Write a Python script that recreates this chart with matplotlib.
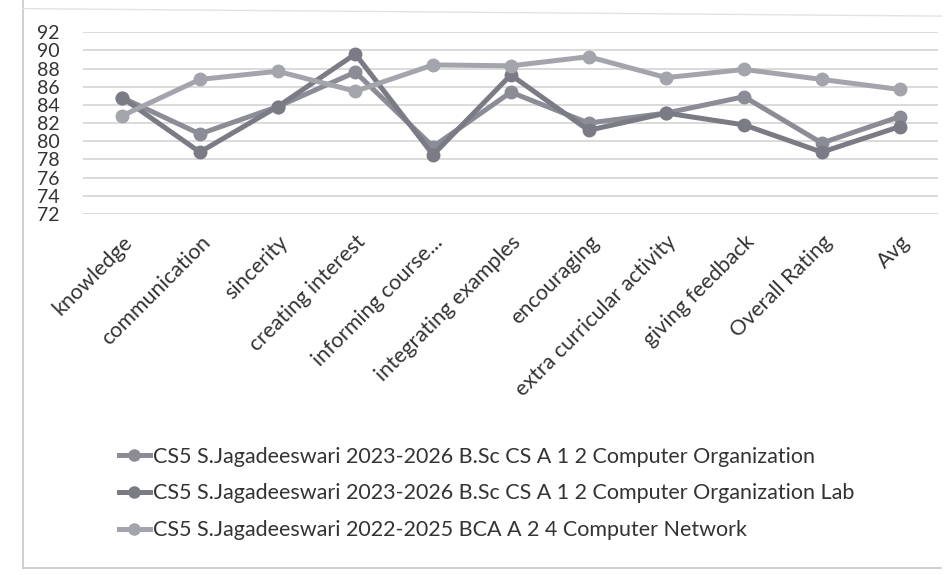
import matplotlib
matplotlib.use("Agg")
import matplotlib.pyplot as plt
from matplotlib.lines import Line2D

categories = ["knowledge", "communication", "sincerity", "creating interest",
              "informing course...", "integrating examples", "encouraging",
              "extra curricular activity", "giving feedback", "Overall Rating", "Avg"]
series_names = [
    "CS5 S.Jagadeeswari 2023-2026 B.Sc CS A 1 2 Computer Organization",
    "CS5 S.Jagadeeswari 2023-2026 B.Sc CS A 1 2 Computer Organization Lab",
    "CS5 S.Jagadeeswari 2022-2025 BCA A 2 4 Computer Network",
]
org = [84.8, 80.8, 83.8, 87.6, 79.4, 85.4, 82.0, 83.1, 84.9, 79.8, 82.7]
org_lab = [84.8, 78.8, 83.8, 89.6, 78.5, 87.3, 81.2, 83.1, 81.8, 78.8, 81.6]
network = [82.8, 86.8, 87.7, 85.5, 88.4, 88.3, 89.3, 87.0, 87.9, 86.8, 85.7]
yticks = list(range(72, 93, 2))

colors = ["#8c8c96", "#7b7b86", "#a4a4ad"]

plt.rcParams['font.family'] = ['Lato', 'DejaVu Sans']
fig = plt.figure(figsize=(9.46, 5.75), dpi=100)
ax = fig.add_axes([0.088, 0.628, 0.904, 0.316])

x = list(range(len(categories)))
for vals, c in zip([org, org_lab, network], colors):
    ax.plot(x, vals, color=c, lw=3.6, marker='o', markersize=9,
            markerfacecolor=c, markeredgecolor=c, zorder=3)

ax.set_xlim(-0.5, len(categories) - 0.5)
ax.set_ylim(72, 92)
ax.set_yticks(yticks)
ax.set_yticklabels([str(v) for v in yticks], fontsize=14, color="#333333")
ax.set_xticks(x)
ax.set_xticklabels(categories, rotation=45, ha='right', rotation_mode='anchor',
                   fontsize=15.5, color="#333333")
ax.tick_params(axis='both', length=0)
ax.tick_params(axis='y', pad=17)
ax.tick_params(axis='x', pad=13)
ax.grid(axis='y', color="#d4d4d4", lw=1.2)
ax.set_axisbelow(True)
for s in ax.spines.values():
    s.set_visible(False)

handles = [Line2D([0], [0], color=c, lw=3.6, marker='o', markersize=8,
                  markerfacecolor=c, markeredgecolor=c) for c in colors]
fig.legend(handles, series_names, loc='upper left', bbox_to_anchor=(0.105, 0.257),
           frameon=False, fontsize=15.5, handlelength=1.45, handletextpad=0.15,
           labelspacing=0.78, labelcolor="#333333")

# outer chart border (scanned frame)
fig.add_artist(Line2D([0.024, 0.024], [0.012, 1.0], color="#c8c8c8", lw=1.2,
                      transform=fig.transFigure))
fig.add_artist(Line2D([0.024, 0.995], [0.012, 0.012], color="#c8c8c8", lw=1.2,
                      transform=fig.transFigure))
fig.add_artist(Line2D([0.024, 0.995], [0.985, 0.972], color="#e2e2e2", lw=1.0,
                      transform=fig.transFigure))

fig.savefig("out.png", dpi=100, facecolor="white")
